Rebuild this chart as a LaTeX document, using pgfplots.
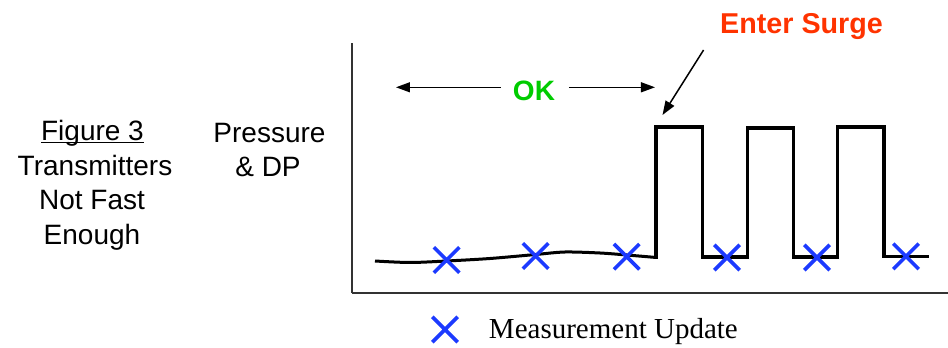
\documentclass[border=0pt]{standalone}
\usepackage{pgfplots}
\pgfplotsset{compat=1.18}
\usepackage{fontspec}
\setmainfont{Liberation Sans}
\newfontfamily\serifont{Liberation Serif}
\usetikzlibrary{arrows.meta}
\definecolor{xblue}{RGB}{28,58,255}
\definecolor{okgreen}{RGB}{0,204,0}
\definecolor{surgered}{RGB}{255,51,0}
\newcommand{\bigtxt}{\fontsize{28}{34}\selectfont}
\begin{document}
\begin{tikzpicture}
\begin{axis}[
  scale only axis, x=1pt, y=1pt,
  xmin=352, xmax=948, ymin=55, ymax=305,
  axis lines=left, axis line style={-, line width=1.4pt, color=black!80},
  ticks=none, clip=false,
  legend style={at={(0.1342,-0.146)}, anchor=west, draw=none, fill=none,
    inner sep=0pt, outer sep=0pt, row sep=0pt, column sep=0pt,
    nodes={inner sep=0pt}, font=\serifont\fontsize{29}{34}\selectfont},
  legend image code/.code={\draw[#1] plot coordinates {(13pt,0pt)};
    \path[draw=none, fill=none] (0pt,-13pt) rectangle (57pt,13pt);},
]
% smooth pre-surge signal
\addplot[black, line width=3pt, smooth, forget plot] coordinates {
 (375,87) (410,85.5) (446.7,87) (490,89.5) (535.7,93.5) (565,96) (600,95) (626.7,93) (654,90.7)};
% surge square wave
\addplot[black, line width=3.4pt, line join=miter, forget plot] coordinates {
 (654,90.7) (656,90.7) (656,221) (702.4,221) (702.4,91) (747.7,91) (747.7,220)
 (793.5,220) (793.5,91) (837.3,91) (837.3,221) (883.8,221) (883.8,91.5) (929,91.5)};
% measurement updates
\addplot[only marks, mark=x, mark size=18pt, mark options={line width=3.6pt, color=xblue}, color=xblue]
 coordinates {(446.7,88) (535.7,92) (626.7,91.3) (727,90.5) (817,90.5) (906,91.7)};
\addlegendentry{Measurement Update}

\coordinate (BL) at (axis cs:0,0);
\coordinate (TR) at (axis cs:948,348);
% OK arrows
\draw[-{Triangle[length=14pt,width=10pt]}, line width=1.3pt] (axis cs:501,260.7) -- (axis cs:396,260.7);
\draw[-{Triangle[length=14pt,width=10pt]}, line width=1.3pt] (axis cs:569,260.7) -- (axis cs:655,260.7);
\node[anchor=base, text=okgreen, font=\bfseries\bigtxt, inner sep=0pt] at (axis cs:534,247.3) {OK};
% Enter Surge
\node[anchor=base west, text=surgered, font=\bfseries\fontsize{28.7}{34}\selectfont, inner sep=0pt] at (axis cs:720,314.7) {Enter Surge};
\draw[-{Triangle[length=14pt,width=10pt]}, line width=1.5pt] (axis cs:703.6,298) -- (axis cs:662.5,233);
% left labels
\node[anchor=base, font=\bigtxt, inner sep=0pt] at (axis cs:92.5,207) {\setbox0\hbox{Figure 3}\rlap{\rule[-2.5pt]{\wd0}{1.3pt}}Figure 3};
\node[anchor=base, font=\bigtxt, inner sep=0pt] at (axis cs:95,172) {Transmitters};
\node[anchor=base, font=\bigtxt, inner sep=0pt] at (axis cs:92,138) {Not Fast};
\node[anchor=base, font=\bigtxt, inner sep=0pt] at (axis cs:92,103) {Enough};
\node[anchor=base, font=\bigtxt, inner sep=0pt] at (axis cs:269.5,205) {Pressure};
\node[anchor=base, font=\bigtxt, inner sep=0pt] at (axis cs:268,171) {\& DP};
\end{axis}
\pgfresetboundingbox
\path[use as bounding box] (BL) rectangle (TR);
\end{tikzpicture}
\end{document}
